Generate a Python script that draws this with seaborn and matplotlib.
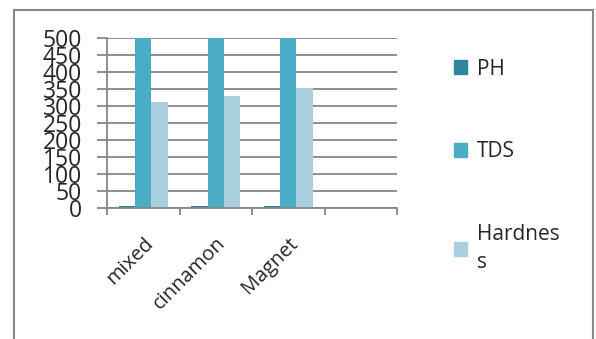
import matplotlib
matplotlib.use("Agg")
import matplotlib.pyplot as plt
import matplotlib.patches as mpatches
import matplotlib.transforms as mtransforms
import seaborn as sns
import pandas as pd
import numpy as np

categories = ["mixed", "cinnamon", "Magnet", ""]
series = ["PH", "TDS", "Hardness"]
ph = [7, 7, 7]
tds = [500, 500, 500]
hardness = [312, 330, 353]
y_ticks = [0, 50, 100, 150, 200, 250, 300, 350, 400, 450, 500]
legend_labels = ["PH", "TDS", "Hardnes\ns"]
colors = ["#31859C", "#4BACC6", "#A9CFDC"]

rows = []
for i, c in enumerate(categories[:3]):
    rows.append((c, "PH", ph[i]))
    rows.append((c, "TDS", tds[i]))
    rows.append((c, "Hardness", hardness[i]))
df = pd.DataFrame(rows, columns=["cat", "series", "value"])

sns.set_style("white")
plt.rcParams["font.family"] = ["Open Sans", "DejaVu Sans"]

fig = plt.figure(figsize=(5.96, 3.39), dpi=100)
ax = fig.add_axes([107/596, 1-208.3/339, 290/596, 170.6/339])

sns.barplot(data=df, x="cat", y="value", hue="series", order=categories,
            hue_order=series, palette=colors, width=0.67, gap=0,
            saturation=1, ax=ax, legend=False, linewidth=0)

ax.set_xlim(-0.5, 3.5)
ax.set_ylim(0, 500)
ax.set_yticks(y_ticks)
ax.set_yticklabels([str(v) for v in y_ticks], fontsize=16.5)
ax.yaxis.grid(True, color="#868686", linewidth=1.3)
ax.set_axisbelow(True)
ax.tick_params(axis="y", length=7, width=1.3, color="#868686", pad=11, left=True)
ax.set_xlabel("")
ax.set_ylabel("")

# category labels at centers, ticks at boundaries
ax.set_xticks(range(4))
ax.set_xticklabels(categories, rotation=45, ha="right", va="top",
                   rotation_mode="anchor", fontsize=14.5)
ax.tick_params(axis="x", length=0, pad=18)
offset = mtransforms.ScaledTranslation(0/100, 0, fig.dpi_scale_trans)
for lab in ax.get_xticklabels():
    lab.set_transform(lab.get_transform() + offset)
ax.set_xticks(np.arange(-0.5, 4.0, 1.0), minor=True)
ax.tick_params(axis="x", which="minor", length=5, width=1.3, color="#868686", bottom=True)

for s in ["top", "right"]:
    ax.spines[s].set_visible(False)
for s in ["left", "bottom"]:
    ax.spines[s].set_color("#868686")
    ax.spines[s].set_linewidth(1.3)

handles = [mpatches.Patch(color=c) for c in colors]
leg = fig.legend(handles, legend_labels, loc="upper left",
                 bbox_to_anchor=(435/596, 1-40/339), frameon=False,
                 fontsize=15, handlelength=0.65, handleheight=0.65,
                 handletextpad=0.45, labelspacing=2.95)
for t in leg.get_texts():
    t.set_linespacing(1.45)

frame = mpatches.Rectangle((14/596, -0.1), (593-14)/596, 1.1-10/339 + 0.0,
                           transform=fig.transFigure, fill=False,
                           edgecolor="#888888", linewidth=1.5, clip_on=False)
fig.patches.append(frame)

fig.savefig("out.png", dpi=100)
